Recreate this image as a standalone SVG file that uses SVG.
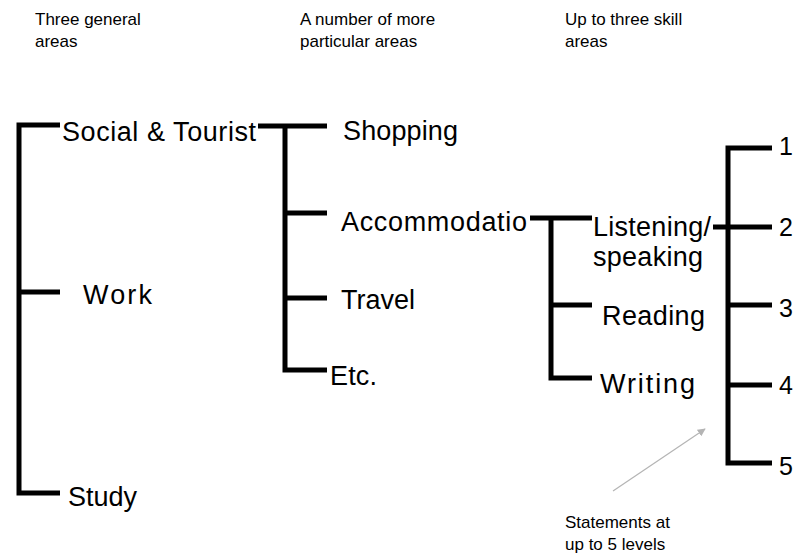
<svg xmlns="http://www.w3.org/2000/svg" width="795" height="557" viewBox="0 0 795 557">
<style>
  .hdr { font-family: "Liberation Sans", Arial, sans-serif; font-size: 17px; fill: #000; }
  .node { font-family: "Liberation Sans", Arial, sans-serif; font-size: 27px; fill: #000; }
  .num { font-family: "Liberation Sans", Arial, sans-serif; font-size: 25px; fill: #000; }
  .note { font-family: "Liberation Sans", Arial, sans-serif; font-size: 17px; fill: #000; }
  .conn { fill: none; stroke: #000; stroke-width: 5; stroke-linejoin: miter; stroke-linecap: butt; }
  .pointer { fill: none; stroke: #b4b4b4; stroke-width: 1.2; }
</style>
<defs>
  <marker id="arrow" viewBox="0 0 10 10" refX="9" refY="5" markerWidth="8" markerHeight="8" orient="auto" markerUnits="userSpaceOnUse">
    <path d="M0,0 L10,5 L0,10 z" fill="#b4b4b4"/>
  </marker>
</defs>

<g id="headers">
  <text class="hdr" x="35" y="25">Three general</text>
  <text class="hdr" x="35" y="47">areas</text>
  <text class="hdr" x="300" y="25">A number of more</text>
  <text class="hdr" x="300" y="47">particular areas</text>
  <text class="hdr" x="565" y="25">Up to three skill</text>
  <text class="hdr" x="565" y="47">areas</text>
</g>

<g id="connectors">
  <path class="conn" d="M60,125 H19 V493 H60"/>
  <path class="conn" d="M19,292 H60"/>
  <path class="conn" d="M258,126 H327"/>
  <path class="conn" d="M285,126 V370 H327"/>
  <path class="conn" d="M285,213 H327"/>
  <path class="conn" d="M285,298 H327"/>
  <path class="conn" d="M530,218 H592"/>
  <path class="conn" d="M551,218 V378 H592"/>
  <path class="conn" d="M551,305 H592"/>
  <path class="conn" d="M772,148 H728 V463 H772"/>
  <path class="conn" d="M713,227 H772"/>
  <path class="conn" d="M728,305 H772"/>
  <path class="conn" d="M728,385 H772"/>
  <path class="pointer" d="M613,491 L705,429" marker-end="url(#arrow)"/>
</g>

<g id="social-tourist"><text class="node" x="62" y="141" textLength="194" lengthAdjust="spacing">Social &amp; Tourist</text></g>
<g id="work"><text class="node" x="83" y="304" textLength="69" lengthAdjust="spacing">Work</text></g>
<g id="study"><text class="node" x="68" y="506" textLength="69" lengthAdjust="spacing">Study</text></g>

<g id="shopping"><text class="node" x="343" y="140" textLength="115" lengthAdjust="spacing">Shopping</text></g>
<g id="accommodation"><text class="node" x="341" y="231" textLength="186" lengthAdjust="spacing">Accommodatio</text></g>
<g id="travel"><text class="node" x="341" y="309" textLength="74" lengthAdjust="spacing">Travel</text></g>
<g id="etc"><text class="node" x="330" y="385" textLength="47" lengthAdjust="spacing">Etc.</text></g>

<g id="listening-speaking">
  <text class="node" x="593" y="236" textLength="118" lengthAdjust="spacing">Listening/</text>
  <text class="node" x="593" y="266" textLength="110" lengthAdjust="spacing">speaking</text>
</g>
<g id="reading"><text class="node" x="602" y="325" textLength="103" lengthAdjust="spacing">Reading</text></g>
<g id="writing"><text class="node" x="600" y="393" textLength="95" lengthAdjust="spacing">Writing</text></g>

<g id="level-1"><text class="num" x="779" y="155">1</text></g>
<g id="level-2"><text class="num" x="779" y="236">2</text></g>
<g id="level-3"><text class="num" x="779" y="317">3</text></g>
<g id="level-4"><text class="num" x="779" y="394">4</text></g>
<g id="level-5"><text class="num" x="779" y="475">5</text></g>

<g id="statements-note">
  <text class="note" x="565" y="528">Statements at</text>
  <text class="note" x="565" y="550">up to 5 levels</text>
</g>
</svg>
